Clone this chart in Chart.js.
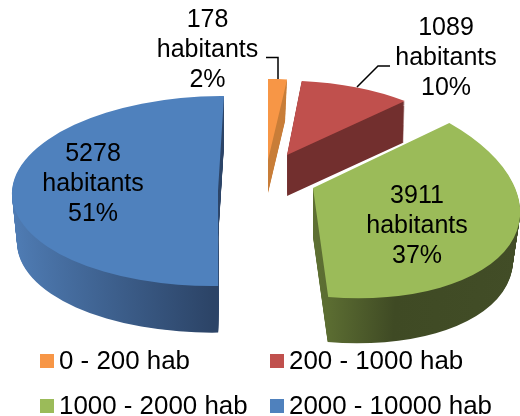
<!DOCTYPE html>
<html>
<head>
<meta charset="utf-8">
<style>html,body{margin:0;padding:0;background:#fff}canvas{display:block}</style>
<script src="https://cdn.jsdelivr.net/npm/chart.js@4"></script>
</head>
<body>
<canvas id="c" width="520" height="416"></canvas>
<script>
const categories = ['0 - 200 hab', '200 - 1000 hab', '1000 - 2000 hab', '2000 - 10000 hab'];
const inhabitants = [178, 1089, 3911, 5278];
const percentLabels = ['2%', '10%', '37%', '51%'];
const unitLabel = 'habitants';
const faceColors = ['#F79646', '#C0504D', '#9BBB59', '#4F81BD'];

// Per-slice projection of the pie's tilted, exploded 3D view: [a, c, b, d, apexX, apexY, depth, wallShrink]
const projection = [
  [179, 0, 0, 81, 268, 160, 33, 0.9],
  [175, 0, 4, 74.5, 287, 155, 41, 0.99],
  [207, 19.5, 9, 108.4, 313, 188, 49, 0.965],
  [206, 0, -6, 95, 218, 191, 49, 0.975]
];
const wallStops = [
  [[0, '#C87D38'], [1, '#C87D38']],
  [[0, '#722F2E'], [1, '#722F2E']],
  [[0, '#5E7033'], [0.5, '#5E7033'], [0.68, '#3F4A24'], [1, '#424D27']],
  [[0, '#4F7CB4'], [0.5, '#2C4467'], [1, '#2C4467']]
];
const drawOrder = [0, 1, 3, 2];
const labelPos = [[207.5, 19], [446, 27], [417, 195], [93, 153]];
const legendPos = [[40, 361], [270, 361], [40, 406], [270, 406]];
const FONT = '25px "Liberation Sans", Arial, sans-serif';
const LEGEND_FONT = '25.9px "Liberation Sans", Arial, sans-serif';

function applySlice(ctx, arc, p, dy) {
  const R = arc.outerRadius;
  const s = dy ? 1 - (1 - p[7]) * dy / p[6] : 1;
  ctx.translate(0, dy);
  ctx.transform(s * p[0] / R, s * p[1] / R, s * p[2] / R, s * p[3] / R, p[4], p[5]);
  ctx.translate(-arc.x, -arc.y);
}

const pie3d = {
  id: 'pie3d',
  beforeDatasetDraw(chart, args) {
    const ctx = chart.ctx;
    const arcs = chart.getDatasetMeta(args.index).data;
    drawOrder.forEach(i => {
      const arc = arcs[i], p = projection[i], base = arc.options;
      const R = arc.outerRadius;
      const g = ctx.createLinearGradient(arc.x - R, 0, arc.x + R, 0);
      wallStops[i].forEach(s => g.addColorStop(s[0], s[1]));
      arc.options = Object.assign({}, base, {backgroundColor: g, borderWidth: 0, offset: 0});
      for (let d = p[6]; d >= 1; d--) {
        ctx.save(); applySlice(ctx, arc, p, d); arc.draw(ctx); ctx.restore();
      }
      arc.options = Object.assign({}, base, {borderWidth: 0, offset: 0});
      ctx.save(); applySlice(ctx, arc, p, 0); arc.draw(ctx); ctx.restore();
      arc.options = base;
    });
    return false;
  },
  afterDraw(chart) {
    const ctx = chart.ctx;
    ctx.save();
    ctx.strokeStyle = '#000'; ctx.lineWidth = 1.5;
    ctx.beginPath();
    ctx.moveTo(266, 57.5); ctx.lineTo(278, 57.5); ctx.lineTo(278, 79);
    ctx.moveTo(390, 66); ctx.lineTo(378, 66); ctx.lineTo(357, 87);
    ctx.stroke();
    ctx.fillStyle = '#000'; ctx.font = FONT; ctx.textBaseline = 'middle'; ctx.textAlign = 'center';
    inhabitants.forEach((v, i) => {
      const [x, y] = labelPos[i];
      ctx.fillText(String(v), x, y + 1);
      ctx.fillText(unitLabel, x, y + 31);
      ctx.fillText(percentLabels[i], x, y + 61);
    });
    ctx.textAlign = 'left';
    ctx.font = LEGEND_FONT;
    categories.forEach((t, i) => {
      const [x, y] = legendPos[i];
      ctx.fillStyle = faceColors[i];
      ctx.fillRect(x, y - 7, 14, 14);
      ctx.fillStyle = '#000';
      ctx.fillText(t, x + 19, y + 1);
    });
    ctx.restore();
  }
};

new Chart(document.getElementById('c'), {
  type: 'pie',
  data: {
    labels: categories,
    datasets: [{ data: inhabitants, backgroundColor: faceColors, borderWidth: 0 }]
  },
  options: {
    responsive: false,
    animation: false,
    rotation: 0,
    plugins: { legend: { display: false }, tooltip: { enabled: false } }
  },
  plugins: [pie3d]
});
</script>
</body>
</html>
